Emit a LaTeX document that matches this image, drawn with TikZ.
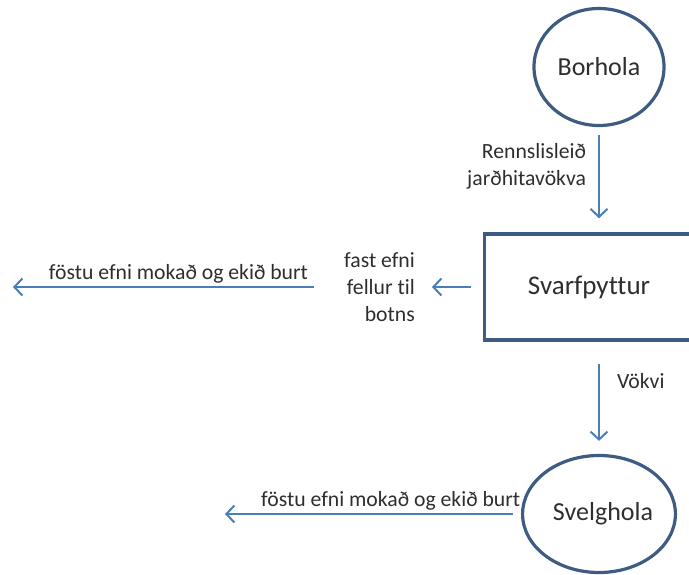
\documentclass[tikz,border=0pt]{standalone}
\usepackage{fontspec}
\setmainfont[Ligatures=NoCommon]{Carlito}
\usetikzlibrary{arrows.meta,shapes.geometric}
\definecolor{rim}{HTML}{3E5C82}
\definecolor{flowblue}{HTML}{4A7EBB}
\definecolor{ink}{HTML}{2E2E2E}
\begin{document}
\begin{tikzpicture}
  [x=1pt,y=-1pt,every node/.style={text=ink,font=\fontsize{21.7}{27}\selectfont}]
  \tikzstyle{hole} = [draw=rim,line width=3.2pt,ellipse,minimum width=130pt,minimum height=117pt,inner sep=0pt,font=\fontsize{26}{30}\selectfont]
  \tikzstyle{pit} = [draw=rim,line width=3.5pt,rectangle,minimum width=225pt,minimum height=106pt,inner sep=0pt,font=\fontsize{27}{30}\selectfont]
  \tikzstyle{flow} = [draw=flowblue,line width=2pt,-{Straight Barb[length=8pt,width=17pt]}]
  \useasboundingbox (0,0) rectangle (689,574);
  \begin{scope}
  \clip (0,0) rectangle (689,574);
  \node[hole] (bor) at (599,67)  {Borhola};
  \node[pit] (svarf) at (597,287) {\hspace*{-16pt}Svarfpyttur};
  \node[hole] (svelg) at (599,514) {\hspace*{8pt}Svelghola};
  \end{scope}
  \node[anchor=east,align=right,inner sep=0pt] (fall) at (415,287) {fast efni\\fellur til\\botns};
  \coordinate (dumpA) at (13,287);
  \coordinate (dumpB) at (225,514);
  \draw[flow,shorten <=8pt,shorten >=14pt] (bor.south) -- node[pos=.37,left=12pt,align=right,inner sep=0pt] {Rennslisleið\\jarðhitavökva} (bor.south |- svarf.north);
  \draw[flow,shorten <=22pt,shorten >=13pt] (bor.south |- svarf.south) -- node[pos=.35,right=17pt,inner sep=0pt] {Vökvi} (svelg.north);
  \draw[flow,shorten <=12pt,shorten >=17pt] (svarf.west) -- (fall.east);
  \draw[flow,shorten <=30pt] (fall) -- node[pos=.5,above=3pt,inner sep=0pt] {föstu efni mokað og ekið burt} (dumpA);
  \draw[flow,shorten <=8pt] (svelg.west) -- node[pos=.44,above=3pt,inner sep=0pt] {föstu efni mokað og ekið burt} (dumpB);
\end{tikzpicture}
\end{document}
